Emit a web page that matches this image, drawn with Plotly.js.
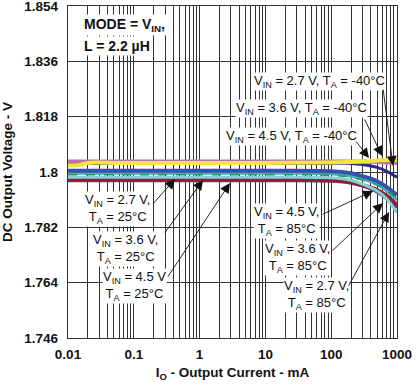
<!DOCTYPE html>
<html><head><meta charset="utf-8">
<script src="https://cdn.plot.ly/plotly-3.0.1.min.js"></script>
<style>body{margin:0;background:#fff}#c{width:416px;height:387px}</style></head>
<body><div id="c"></div>
<script>
// Output current (mA)
const current = [0.01,0.015,0.02,0.05,0.1,1,10,100,200,300,500,700,1000];
// DC output voltage (V) per condition
const v27_m40 = [1.80215,1.80231,1.80296,1.80296,1.80296,1.80296,1.80296,1.80312,1.80328,1.80344,1.80376,1.80392,1.80392];
const v36_m40 = [1.80344,1.80344,1.80344,1.80344,1.80344,1.80344,1.80344,1.80344,1.80344,1.80344,1.80328,1.80312,1.80296];
const v45_m40 = [1.80280,1.80280,1.80280,1.80280,1.80280,1.80280,1.80280,1.80280,1.80280,1.80247,1.80151,1.80022,1.79830];
const v27_25  = [1.80039,1.80039,1.80039,1.80039,1.80039,1.80039,1.80039,1.80022,1.79958,1.79862,1.79701,1.79508,1.79251];
const v36_25  = [1.79958,1.79958,1.79958,1.79958,1.79958,1.79958,1.79958,1.79942,1.79862,1.79765,1.79605,1.79380,1.79090];
const v45_25  = [1.79910,1.79910,1.79910,1.79910,1.79910,1.79910,1.79910,1.79894,1.79830,1.79733,1.79572,1.79380,1.79155];
const v27_85  = [1.79830,1.79830,1.79830,1.79830,1.79830,1.79830,1.79830,1.79814,1.79733,1.79605,1.79380,1.79122,1.78672];
const v36_85  = [1.79749,1.79749,1.79749,1.79749,1.79749,1.79749,1.79749,1.79733,1.79669,1.79572,1.79412,1.79219,1.78930];
const v45_85  = [1.79717,1.79717,1.79717,1.79717,1.79717,1.79717,1.79717,1.79701,1.79637,1.79540,1.79347,1.79122,1.78833];
const xTickVals = [0.01,0.1,1,10,100,1000];
const xTickText = ['0.01','0.1','1','10','100','1000'];
const yTickVals = [1.746,1.764,1.782,1.8,1.818,1.836,1.854];
const yTickText = ['1.746','1.764','1.782','1.8','1.818','1.836','1.854'];

const minorVals = [];
for (let d = -2; d < 3; d++) for (let m = 2; m <= 9; m++) minorVals.push(m * Math.pow(10, d));

function tr(y, color, width, dash) {
  return {x: current, y: y, type: 'scatter', mode: 'lines',
    line: {color: color, width: width, shape: 'spline', dash: dash || 'solid'},
    hoverinfo: 'skip', showlegend: false};
}
const data = [
  tr(v45_85, '#7a3c7c', 3),
  tr(v36_85, '#8e1f35', 4),
  tr(v27_85, '#7fd3d6', 3),
  tr(v36_25, '#4fa9b8', 3),
  tr(v45_25, '#1f9a5a', 1.5, 'dash'),
  tr(v27_25, '#3553a8', 4),
  tr(v45_m40, '#2c2a86', 3),
  tr(v36_m40, '#c070b0', 4),
  tr(v27_m40, '#f2e83a', 4)
];

const L = 68, T = 6, W = 329, H = 332;
function px(x) { return (x - L) / W; }
function py(y) { return (T + H - y) / H; }
const lf = {family: 'Liberation Sans, Arial, sans-serif', size: 13, color: '#111'};
function label(x, y, text) {
  return {xref: 'paper', yref: 'paper', x: px(x), y: py(y), text: text, showarrow: false,
    bgcolor: '#fff', font: lf, xanchor: 'center', yanchor: 'middle', borderpad: 0, align: 'center'};
}
function arrow(tx, ty, hx, hy) {
  return {xref: 'paper', yref: 'paper', x: px(hx), y: py(hy), text: '', showarrow: true,
    axref: 'pixel', ayref: 'pixel', ax: tx - hx, ay: ty - hy,
    arrowhead: 2, arrowsize: 2.2, arrowwidth: 0.9, arrowcolor: '#111', standoff: 0};
}
const annotations = [
  {xref: 'paper', yref: 'paper', x: px(82), y: py(25), text: '<b>MODE = V<sub>IN</sub>,</b>', showarrow: false,
   bgcolor: '#fff', xanchor: 'left', yanchor: 'middle', font: {family: 'Liberation Sans, Arial, sans-serif', size: 14, color: '#111'}},
  {xref: 'paper', yref: 'paper', x: px(82), y: py(46), text: '<b>L = 2.2 µH</b>', showarrow: false,
   bgcolor: '#fff', xanchor: 'left', yanchor: 'middle', font: {family: 'Liberation Sans, Arial, sans-serif', size: 14, color: '#111'}},
  label(319, 81, 'V<sub>IN</sub> = 2.7 V, T<sub>A</sub> = -40°C'),
  label(301, 108, 'V<sub>IN</sub> = 3.6 V, T<sub>A</sub> = -40°C'),
  label(291, 136, 'V<sub>IN</sub> = 4.5 V, T<sub>A</sub> = -40°C'),
  label(117, 209, 'V<sub>IN</sub> = 2.7 V,<br>T<sub>A</sub> = 25°C'),
  label(125, 249, 'V<sub>IN</sub> = 3.6 V,<br>T<sub>A</sub> = 25°C'),
  label(134, 286, 'V<sub>IN</sub> = 4.5 V<br>T<sub>A</sub> = 25°C'),
  label(286, 221, 'V<sub>IN</sub> = 4.5 V,<br>T<sub>A</sub> = 85°C'),
  label(297, 258, 'V<sub>IN</sub> = 3.6 V,<br>T<sub>A</sub> = 85°C'),
  label(316, 295, 'V<sub>IN</sub> = 2.7 V,<br>T<sub>A</sub> = 85°C'),
  arrow(383, 88, 393, 166),
  arrow(364, 118, 382, 156),
  arrow(355, 140, 369, 158),
  arrow(152, 205, 175, 179),
  arrow(164, 234, 203, 180),
  arrow(167, 278, 230, 183),
  arrow(321, 215, 373, 191),
  arrow(331, 252, 383, 203),
  arrow(348, 287, 389, 212)
];

const tf = {family: 'Liberation Sans, Arial, sans-serif', size: 13.5, color: '#111'};
const layout = {
  width: 416, height: 387,
  margin: {l: L, r: 416 - L - W, t: T, b: 387 - T - H},
  paper_bgcolor: '#fff', plot_bgcolor: '#fff',
  xaxis: {type: 'log', range: [-2, 3], tickvals: xTickVals, ticktext: xTickText,
    tickfont: Object.assign({weight: 'bold'}, tf), ticks: '', ticklabelstandoff: 4,
    ticklabeloverflow: 'allow',
    showgrid: true, gridcolor: '#333', gridwidth: 1,
    minor: {tickvals: minorVals, showgrid: true, gridcolor: '#333', gridwidth: 1, ticks: ''},
    showline: true, linecolor: '#333', linewidth: 1.2, mirror: true, zeroline: false,
    title: {text: '<b>I<sub>O</sub> - Output Current - mA</b>', font: tf, standoff: 6}},
  yaxis: {range: [1.746, 1.854], tickvals: yTickVals, ticktext: yTickText,
    tickfont: Object.assign({weight: 'bold'}, tf), ticks: '', ticklabelstandoff: 6,
    ticklabeloverflow: 'allow',
    showgrid: true, gridcolor: '#333', gridwidth: 1, zeroline: false,
    showline: true, linecolor: '#333', linewidth: 1.2, mirror: true,
    title: {text: '<b>DC Output Voltage - V</b>', font: tf, standoff: 8}},
  annotations: annotations,
  showlegend: false
};
Plotly.newPlot('c', data, layout, {staticPlot: true, displayModeBar: false});
</script>
</body></html>
